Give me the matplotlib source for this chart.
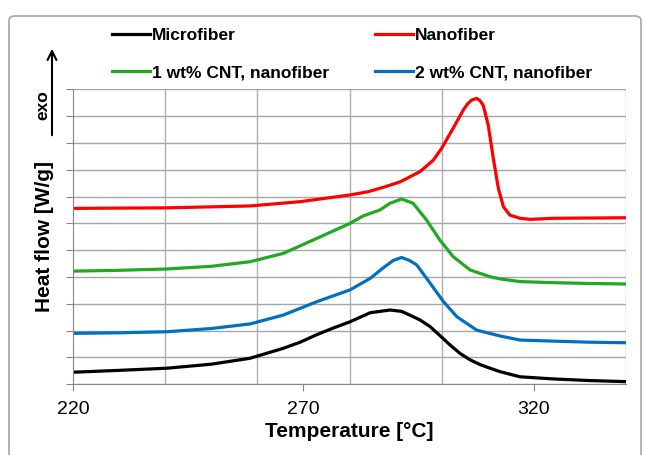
import numpy as np
import matplotlib
matplotlib.use("Agg")
import matplotlib.pyplot as plt
from matplotlib.patches import FancyBboxPatch

plt.rcParams['font.family'] = ['Liberation Sans', 'DejaVu Sans']

# Data (temperature in degC, heat flow in grid units)
t_micro = [220, 230, 240.4, 250, 258.4, 265.6, 269.3, 272.9, 276.5, 280.1,
           284.5, 288.8, 291.3, 293.1, 295.3, 297.5, 299.6, 301.8, 304, 306.2,
           308.4, 310.5, 312.7, 317, 324.2, 332, 339.8]
hf_micro = [0.45, 0.52, 0.60, 0.75, 0.97, 1.34, 1.57, 1.85, 2.10, 2.33,
            2.67, 2.77, 2.72, 2.58, 2.40, 2.15, 1.82, 1.47, 1.15, 0.91,
            0.73, 0.60, 0.47, 0.28, 0.20, 0.14, 0.10]

t_nano = [220, 240.4, 258.4, 269.3, 280.1, 284, 288, 291, 295.3, 298.2,
          300, 302.5, 304.7, 305.6, 306.5, 307.6, 308.3, 309, 310.1, 311.2,
          312.3, 313.4, 314.8, 317, 319.2, 324.2, 339.8]
hf_nano = [6.56, 6.58, 6.65, 6.81, 7.06, 7.18, 7.38, 7.55, 7.93, 8.36,
           8.80, 9.55, 10.23, 10.45, 10.60, 10.66, 10.58, 10.41, 9.67, 8.43,
           7.31, 6.62, 6.31, 6.19, 6.15, 6.19, 6.21]

t_cnt1 = [220, 230, 240.4, 250, 258.4, 265.6, 272.9, 276.5, 280.1, 283,
          286.6, 288.8, 291.3, 293.8, 296.7, 299.6, 302.5, 306.2, 310.5, 312.7,
          317, 324.2, 332, 339.8]
hf_cnt1 = [4.22, 4.25, 4.30, 4.40, 4.57, 4.88, 5.44, 5.72, 6.00, 6.28,
           6.50, 6.75, 6.91, 6.75, 6.13, 5.38, 4.76, 4.26, 4.01, 3.93,
           3.83, 3.79, 3.76, 3.74]

t_cnt2 = [220, 230, 240.4, 250, 258.4, 265.6, 272.9, 276.5, 280.1, 284.5,
          287, 289.5, 291.3, 293, 294.6, 297.5, 300.4, 303.3, 307.6, 312.7,
          317, 324.2, 332, 339.8]
hf_cnt2 = [1.90, 1.92, 1.96, 2.08, 2.25, 2.58, 3.08, 3.30, 3.52, 3.95,
           4.30, 4.62, 4.73, 4.62, 4.45, 3.77, 3.08, 2.52, 2.02, 1.80,
           1.65, 1.61, 1.57, 1.55]

fig = plt.figure(figsize=(6.47, 4.55), dpi=100)

# outer chart frame
fig.patches.append(FancyBboxPatch((9/647, -0.05), 632/647, 1.0 - 16/455 + 0.05,
                                  boxstyle="round,pad=0,rounding_size=0.01",
                                  transform=fig.transFigure, fill=False,
                                  edgecolor='#A6A6A6', linewidth=1.2))

ax = fig.add_axes([73/647, 1 - 384.3/455, 553/647, 295/455])

l1, = ax.plot(t_micro, hf_micro, color='black', lw=2.3, label='Microfiber')
l2, = ax.plot(t_nano, hf_nano, color='#FF0000', lw=2.3, label='Nanofiber')
l3, = ax.plot(t_cnt1, hf_cnt1, color='#1FAA1F', lw=2.3, label='1 wt% CNT, nanofiber')
l4, = ax.plot(t_cnt2, hf_cnt2, color='#0070C0', lw=2.3, label='2 wt% CNT, nanofiber')

ax.set_xlim(220, 340)
ax.set_ylim(0, 11)
ax.set_xticks([220, 270, 320])
ax.set_xticks(np.arange(240, 341, 20), minor=True)
ax.set_yticks(np.arange(0, 12, 1))
ax.set_yticklabels([])
ax.tick_params(axis='x', which='major', length=5, color='#868686', labelsize=14, pad=7)
ax.tick_params(axis='x', which='minor', length=0)
ax.tick_params(axis='y', length=5, color='#868686')
ax.grid(True, which='minor', axis='x', color='#B0B0B0', lw=1)
ax.grid(True, which='major', axis='y', color='#A6A6A6', lw=1)
ax.set_axisbelow(True)
for s in ['top', 'right']:
    ax.spines[s].set_visible(False)
for s in ['left', 'bottom']:
    ax.spines[s].set_color('#868686')

ax.set_xlabel('Temperature [°C]', fontsize=15, fontweight='bold', labelpad=3)
fig.text(45/647, 1 - 236/455, 'Heat flow [W/g]', rotation=90, fontsize=15,
         fontweight='bold', ha='center', va='center')
fig.text(43/647, 1 - 105/455, 'exo', rotation=90, fontsize=12.5,
         fontweight='bold', ha='center', va='center')
ax.annotate('', xy=(52/647, 1 - 46/455), xytext=(52/647, 1 - 138/455),
            xycoords='figure fraction', textcoords='figure fraction',
            arrowprops=dict(arrowstyle='->', color='black', lw=1.5,
                            mutation_scale=16))

leg_kw = dict(loc='upper left', frameon=False, borderpad=0, borderaxespad=0,
              handlelength=2.2, handletextpad=0.1, labelspacing=1.25,
              prop={'weight': 'bold', 'size': 12.5})
leg1 = fig.legend(handles=[l1, l3], bbox_to_anchor=(112/647, 1 - 28/455), **leg_kw)
leg2 = fig.legend(handles=[l2, l4], bbox_to_anchor=(375/647, 1 - 28/455), **leg_kw)

fig.savefig('out.png', dpi=100)
